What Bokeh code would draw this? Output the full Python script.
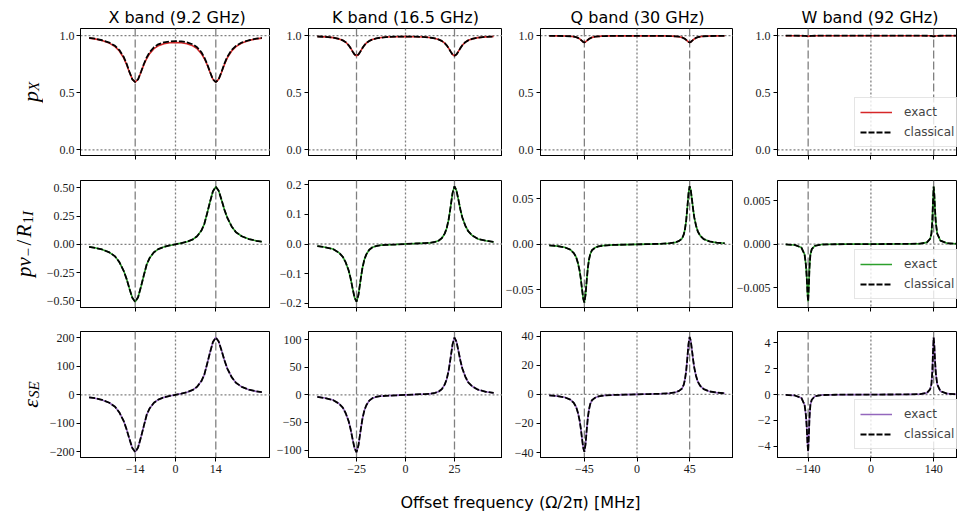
import math
from bokeh.plotting import figure
from bokeh.layouts import gridplot, column
from bokeh.models import (Range1d, FixedTicker, Span, Label, Legend, LegendItem,
                          CustomLabelingPolicy)
from bokeh.embed import file_html
from bokeh.resources import INLINE

# ------------------------------------------------------------------ data
band_titles = ["X band (9.2 GHz)", "K band (16.5 GHz)", "Q band (30 GHz)", "W band (92 GHz)"]
se_offsets = [14, 25, 45, 140]
x_ticks = [[-14, 0, 14], [-25, 0, 25], [-45, 0, 45], [-140, 0, 140]]
x_tick_labels = [["−14", "0", "14"], ["−25", "0", "25"], ["−45", "0", "45"], ["−140", "0", "140"]]

# X band (9.2 GHz)
x_X = [-30, -28, -25.5, -23, -21, -19.5, -18, -17, -16, -15, -14, -13, -12, -11, -10, -9, -7.5, -6, -4, -2,
       0, 2, 4, 6, 7.5, 9, 10, 11, 12, 13, 14, 15, 16, 17, 18, 19.5, 21, 23, 25.5, 28, 30]
px_X_exact = [0.979, 0.972, 0.957, 0.935, 0.904, 0.866, 0.805, 0.748, 0.680, 0.619, 0.593, 0.618, 0.679, 0.745,
              0.800, 0.843, 0.886, 0.911, 0.930, 0.938, 0.940, 0.938, 0.930, 0.911, 0.886, 0.843, 0.800, 0.745,
              0.679, 0.618, 0.593, 0.619, 0.680, 0.748, 0.805, 0.866, 0.904, 0.935, 0.957, 0.972, 0.979]
px_X_classical = [0.980, 0.974, 0.960, 0.940, 0.911, 0.874, 0.815, 0.756, 0.683, 0.617, 0.593, 0.617, 0.682, 0.752,
                  0.810, 0.855, 0.899, 0.924, 0.942, 0.950, 0.952, 0.950, 0.942, 0.924, 0.899, 0.855, 0.810, 0.752,
                  0.682, 0.617, 0.593, 0.617, 0.683, 0.756, 0.815, 0.874, 0.911, 0.940, 0.960, 0.974, 0.980]
pv_X_exact = [-0.023, -0.031, -0.046, -0.071, -0.107, -0.158, -0.235, -0.306, -0.393, -0.474, -0.510, -0.469,
              -0.377, -0.275, -0.179, -0.122, -0.071, -0.043, -0.023, -0.010, 0.0, 0.010, 0.023, 0.043, 0.071,
              0.122, 0.179, 0.275, 0.377, 0.469, 0.510, 0.474, 0.393, 0.306, 0.235, 0.158, 0.107, 0.071, 0.046,
              0.031, 0.023]
pv_X_classical = pv_X_exact
eps_X_exact = [-9, -12, -18, -28, -42, -62, -92, -121, -155, -187, -201, -185, -149, -109, -70, -48, -28, -17, -9, -4,
               0, 4, 9, 17, 28, 48, 70, 109, 149, 185, 201, 187, 155, 121, 92, 62, 42, 28, 18, 12, 9]
eps_X_classical = eps_X_exact

# K band (16.5 GHz)
x_K = [-45, -41, -37, -34, -32, -30.5, -29, -28, -27, -26, -25, -24, -23, -22, -21, -20, -18.5, -17, -15, -13, -10, -5,
       0, 5, 10, 13, 15, 17, 18.5, 20, 21, 22, 23, 24, 25, 26, 27, 28, 29, 30.5, 32, 34, 37, 41, 45]
px_K_exact = [0.993, 0.990, 0.983, 0.972, 0.959, 0.943, 0.916, 0.891, 0.862, 0.835, 0.824, 0.835, 0.862, 0.891,
              0.916, 0.935, 0.954, 0.966, 0.976, 0.982, 0.988, 0.991, 0.992, 0.991, 0.988, 0.982, 0.976, 0.966,
              0.954, 0.935, 0.916, 0.891, 0.862, 0.835, 0.824, 0.835, 0.862, 0.891, 0.916, 0.943, 0.959, 0.972,
              0.983, 0.990, 0.993]
px_K_classical = px_K_exact
pv_K_exact = [-0.007, -0.011, -0.017, -0.029, -0.043, -0.062, -0.089, -0.116, -0.149, -0.180, -0.194, -0.171, -0.124,
              -0.0815, -0.0524, -0.0349, -0.0194, -0.0116, -0.0068, -0.0043, -0.0029, -0.0016, 0.0, 0.0016, 0.0029,
              0.0043, 0.0068, 0.0116, 0.0194, 0.0349, 0.0524, 0.0815, 0.124, 0.171, 0.194, 0.180, 0.149, 0.116,
              0.089, 0.062, 0.043, 0.029, 0.017, 0.011, 0.007]
pv_K_classical = pv_K_exact
eps_K_exact = [-3.6, -5.7, -9.4, -15.6, -22.9, -33.3, -47.8, -62.4, -80.1, -96.7, -104, -91.5, -66.6, -43.7, -28.1,
               -18.7, -10.4, -6.2, -3.6, -2.3, -1.6, -0.8, 0, 0.8, 1.6, 2.3, 3.6, 6.2, 10.4, 18.7, 28.1, 43.7, 66.6,
               91.5, 104, 96.7, 80.1, 62.4, 47.8, 33.3, 22.9, 15.6, 9.4, 5.7, 3.6]
eps_K_classical = eps_K_exact

# Q band (30 GHz)
x_Q = [-75, -68, -62, -57, -54, -52, -50.5, -49, -48, -47, -46, -45, -44, -43, -42, -41, -40, -38.5, -36, -33, -28,
       -20, -10, 0, 10, 20, 28, 33, 36, 38.5, 40, 41, 42, 43, 44, 45, 46, 47, 48, 49, 50.5, 52, 54, 57, 62, 68, 75]
px_Q_exact = [0.999, 0.998, 0.997, 0.995, 0.991, 0.987, 0.981, 0.972, 0.963, 0.954, 0.945, 0.941, 0.945, 0.954,
              0.963, 0.972, 0.978, 0.985, 0.991, 0.994, 0.997, 0.998, 0.998, 0.999, 0.998, 0.998, 0.997, 0.994,
              0.991, 0.985, 0.978, 0.972, 0.963, 0.954, 0.945, 0.941, 0.945, 0.954, 0.963, 0.972, 0.981, 0.987,
              0.991, 0.995, 0.997, 0.998, 0.999]
px_Q_classical = px_Q_exact
pv_Q_exact = [-0.0012, -0.0019, -0.0032, -0.0058, -0.0096, -0.0141, -0.0205, -0.0294, -0.0384, -0.0493, -0.0595,
              -0.064, -0.0557, -0.0397, -0.0256, -0.0166, -0.0109, -0.0064, -0.0038, -0.0022, -0.0013, -0.0006,
              -0.0003, 0.0, 0.0003, 0.0006, 0.0013, 0.0022, 0.0038, 0.0064, 0.0109, 0.0166, 0.0256, 0.0397, 0.0557,
              0.064, 0.0595, 0.0493, 0.0384, 0.0294, 0.0205, 0.0141, 0.0096, 0.0058, 0.0032, 0.0019, 0.0012]
pv_Q_classical = pv_Q_exact
eps_Q_exact = [-0.7, -1.2, -2.0, -3.6, -5.9, -8.7, -12.6, -18.2, -23.7, -30.4, -36.7, -39.5, -34.4, -24.5, -15.8,
               -10.3, -6.7, -4.0, -2.4, -1.4, -0.8, -0.4, -0.2, 0, 0.2, 0.4, 0.8, 1.4, 2.4, 4.0, 6.7, 10.3, 15.8,
               24.5, 34.4, 39.5, 36.7, 30.4, 23.7, 18.2, 12.6, 8.7, 5.9, 3.6, 2.0, 1.2, 0.7]
eps_Q_classical = eps_Q_exact

# W band (92 GHz)
x_W = [-190, -170, -155, -148, -145, -143, -141.5, -140, -138.5, -137, -135, -132, -125, -110, -80, -40, 0,
       40, 80, 110, 125, 132, 135, 137, 138.5, 140, 141.5, 143, 145, 148, 155, 170, 190]
px_W_exact = [1.000, 0.9999, 0.9996, 0.9989, 0.9978, 0.9963, 0.9948, 0.994, 0.9948, 0.9963, 0.9978, 0.9989, 0.9996,
              1.000, 1.000, 1.000, 1.000, 1.000, 1.000, 1.000, 0.9996, 0.9989, 0.9978, 0.9963, 0.9948, 0.994,
              0.9948, 0.9963, 0.9978, 0.9989, 0.9996, 0.9999, 1.000]
px_W_classical = px_W_exact
pv_W_exact = [-0.00004, -0.0001, -0.0004, -0.00119, -0.00238, -0.00396, -0.00568, -0.0066, -0.00482, -0.00264,
              -0.00119, -0.00059, -0.0002, -0.00005, -0.00002, -0.00001, 0.0, 0.00001, 0.00002, 0.00005, 0.0002,
              0.00059, 0.00119, 0.00264, 0.00482, 0.0066, 0.00568, 0.00396, 0.00238, 0.00119, 0.0004, 0.0001,
              0.00004]
pv_W_classical = pv_W_exact
eps_W_exact = [-0.026, -0.07, -0.26, -0.79, -1.58, -2.64, -3.78, -4.4, -3.21, -1.76, -0.79, -0.40, -0.13, -0.035,
               -0.013, -0.004, 0, 0.004, 0.013, 0.035, 0.13, 0.40, 0.79, 1.76, 3.21, 4.4, 3.78, 2.64, 1.58, 0.79,
               0.26, 0.07, 0.026]
eps_W_classical = eps_W_exact

y_ticks = [
    [[0, 0.5, 1.0]] * 4,
    [[-0.5, -0.25, 0, 0.25, 0.5], [-0.2, -0.1, 0, 0.1, 0.2], [-0.05, 0, 0.05], [-0.005, 0, 0.005]],
    [[-200, -100, 0, 100, 200], [-100, -50, 0, 50, 100], [-40, -20, 0, 20, 40], [-4, -2, 0, 2, 4]],
]
y_tick_labels = [
    [["0.0", "0.5", "1.0"]] * 4,
    [["−0.50", "−0.25", "0.00", "0.25", "0.50"], ["−0.2", "−0.1", "0.0", "0.1", "0.2"],
     ["−0.05", "0.00", "0.05"], ["−0.005", "0.000", "0.005"]],
    [["−200", "−100", "0", "100", "200"], ["−100", "−50", "0", "50", "100"],
     ["−40", "−20", "0", "20", "40"], ["−4", "−2", "0", "2", "4"]],
]

xs = [x_X, x_K, x_Q, x_W]
exact = [
    [px_X_exact, px_K_exact, px_Q_exact, px_W_exact],
    [pv_X_exact, pv_K_exact, pv_Q_exact, pv_W_exact],
    [eps_X_exact, eps_K_exact, eps_Q_exact, eps_W_exact],
]
classical = [
    [px_X_classical, px_K_classical, px_Q_classical, px_W_classical],
    [pv_X_classical, pv_K_classical, pv_Q_classical, pv_W_classical],
    [eps_X_classical, eps_K_classical, eps_Q_classical, eps_W_classical],
]
legend_labels = ["exact", "classical"]
x_label_text = "Offset frequency (Ω/2π) [MHz]"

# ------------------------------------------------------------------ layout / style
LABEL_COL_W = 43
TITLE_ROW_H = 28
XLABEL_H = 38
FIG_W = [227, 232, 231, 224]
BORDER_L = [34, 38, 37, 39]
ROW_H = [140, 151, 161]
BORDER_T = [0, 12, 12]
BORDER_B = [13, 12, 23]
X_RANGES = [(-33, 33), (-49.5, 49.5), (-82.5, 82.5), (-208.4, 193.2)]
Y_RANGES = [
    [(-0.05, 1.063)] * 4,
    [(-0.56, 0.565), (-0.2135, 0.2135), (-0.0695, 0.0703), (-0.00728, 0.0073)],
    [(-220, 222), (-113.5, 115), (-43.4, 43.2), (-4.86, 4.87)],
]
ROW_COLORS = ["#d62728", "#2ca02c", "#9467bd"]
GRAY = "#808080"
TICK_FONT = "'Liberation Serif', 'Times New Roman', serif"
MATH_FONT = "'Liberation Serif', 'Times New Roman', serif"
SANS = "'DejaVu Sans', sans-serif"

# y-axis label pieces: baseline x (px in label column), centre y (px from frame bottom),
# pieces: (text, style, size px, advance px, subscript shift px)
YLABEL = [
    (29.5, 63.5, [("p", "italic", 22, 11.0, 0), ("X", "italic", 15, 9.2, 4.0)]),
    (23.0, 63.5, [("pv", "italic", 21, 20.5, 0), ("−", "normal", 15, 11.0, 4.0), ("/", "normal", 21, 8.0, 0),
                  ("R", "italic", 21, 14.0, 0), ("1", "normal", 15, 7.5, 4.0), ("I", "italic", 15, 5.0, 4.0)]),
    (29.5, 63.0, [("ε", "italic", 22, 9.7, 0), ("S", "italic", 15, 7.5, 4.0), ("E", "italic", 15, 9.2, 4.0)]),
]


def blank_fig(w, h):
    f = figure(width=w, height=h, output_backend="svg", toolbar_location=None,
               x_axis_type=None, y_axis_type=None, min_border=0,
               x_range=Range1d(0, 1), y_range=Range1d(0, 1))
    f.outline_line_color = None
    f.background_fill_color = "white"
    f.border_fill_color = "white"
    return f


def style_axes(p, ci, ri):
    for ax in (p.xaxis[0], p.yaxis[0]):
        ax.major_tick_in = 0
        ax.major_tick_out = 4
        ax.minor_tick_line_color = None
        ax.major_tick_line_color = "black"
        ax.axis_line_color = "black"
        ax.major_label_text_font = TICK_FONT
        ax.major_label_text_font_size = "12px"
        ax.major_label_text_color = "#1a1a1a"
    xa = p.xaxis[0]
    xa.ticker = FixedTicker(ticks=x_ticks[ci])
    xa.major_label_overrides = {float(t): s for t, s in zip(x_ticks[ci], x_tick_labels[ci])}
    if ri < 2:
        # tick marks only, no tick labels on the upper rows
        xa.major_label_policy = CustomLabelingPolicy(code="return new Set()")
        xa.major_label_text_font_size = "1px"
        xa.major_label_standoff = 0
    else:
        xa.major_label_standoff = 3
    ya = p.yaxis[0]
    ya.ticker = FixedTicker(ticks=y_ticks[ri][ci])
    ya.major_label_overrides = {float(t): s for t, s in zip(y_ticks[ri][ci], y_tick_labels[ri][ci])}
    ya.major_label_standoff = 2 if ci == 0 else 3


# title row (its frames are aligned with the panel frames by the grid)
title_row = [None]
for ci in range(4):
    t = blank_fig(FIG_W[ci], TITLE_ROW_H)
    fw = FIG_W[ci] - BORDER_L[ci]
    t.add_layout(Label(x=fw / 2, y=11, x_units="screen", y_units="screen",
                       text=band_titles[ci], text_align="center", text_baseline="alphabetic",
                       text_font=SANS, text_font_size="16px", text_color="black"))
    title_row.append(t)

rows = [title_row]
for ri in range(3):
    # y-axis label column (frame aligned vertically with the panel frames)
    lf = blank_fig(LABEL_COL_W, ROW_H[ri])
    bx, cy, pieces = YLABEL[ri]
    total = sum(pc[3] for pc in pieces)
    yy = cy - total / 2
    for txt, sty, size, adv, sub in pieces:
        lf.add_layout(Label(x=bx + sub, y=yy, x_units="screen", y_units="screen", text=txt,
                            angle=math.pi / 2, text_align="left", text_baseline="alphabetic",
                            text_font=MATH_FONT, text_font_style=sty,
                            text_font_size=f"{size}px", text_color="black"))
        yy += adv
    row = [lf]
    for ci in range(4):
        p = figure(width=FIG_W[ci], height=ROW_H[ri], output_backend="svg", toolbar_location=None,
                   x_range=Range1d(*X_RANGES[ci]), y_range=Range1d(*Y_RANGES[ri][ci]),
                   min_border_left=BORDER_L[ci], min_border_right=0,
                   min_border_top=BORDER_T[ri], min_border_bottom=BORDER_B[ri])
        p.xgrid.visible = False
        p.ygrid.visible = False
        p.outline_line_color = "black"
        p.outline_line_width = 1
        p.background_fill_color = "white"
        p.border_fill_color = "white"
        style_axes(p, ci, ri)

        # reference lines
        p.add_layout(Span(location=0, dimension="height", line_color=GRAY, line_width=1.3,
                          line_dash="2 2", level="underlay"))
        for s in (-se_offsets[ci], se_offsets[ci]):
            p.add_layout(Span(location=s, dimension="height", line_color=GRAY, line_width=1.3,
                              line_dash="8 3", level="underlay"))
        hlines = [0, 1] if ri == 0 else [0]
        for h in hlines:
            p.add_layout(Span(location=h, dimension="width", line_color=GRAY, line_width=1.3,
                              line_dash="2 2", level="underlay"))

        r_ex = p.line(xs[ci], exact[ri][ci], line_color=ROW_COLORS[ri], line_width=1.6)
        r_cl = p.line(xs[ci], classical[ri][ci], line_color="black", line_width=1.8, line_dash="6 2")

        if ci == 3:
            leg = Legend(items=[LegendItem(label=legend_labels[0], renderers=[r_ex]),
                                LegendItem(label=legend_labels[1], renderers=[r_cl])],
                         location=(77, 8), padding=5, spacing=2, margin=0,
                         glyph_width=32, glyph_height=18, label_height=18, label_standoff=12,
                         label_text_font=SANS, label_text_font_size="12px",
                         border_line_color="#cccccc", border_line_width=1,
                         background_fill_color="white", background_fill_alpha=0.8)
            p.add_layout(leg)
        row.append(p)
    rows.append(row)

grid = gridplot(rows, toolbar_location=None)

lab = blank_fig(957, XLABEL_H)
lab.add_layout(Label(x=520, y=16, x_units="screen", y_units="screen", text=x_label_text,
                     text_align="center", text_baseline="middle", text_font=SANS,
                     text_font_size="16px", text_color="black"))

layout = column(grid, lab)
open("out.html", "w").write(file_html(layout, INLINE))
